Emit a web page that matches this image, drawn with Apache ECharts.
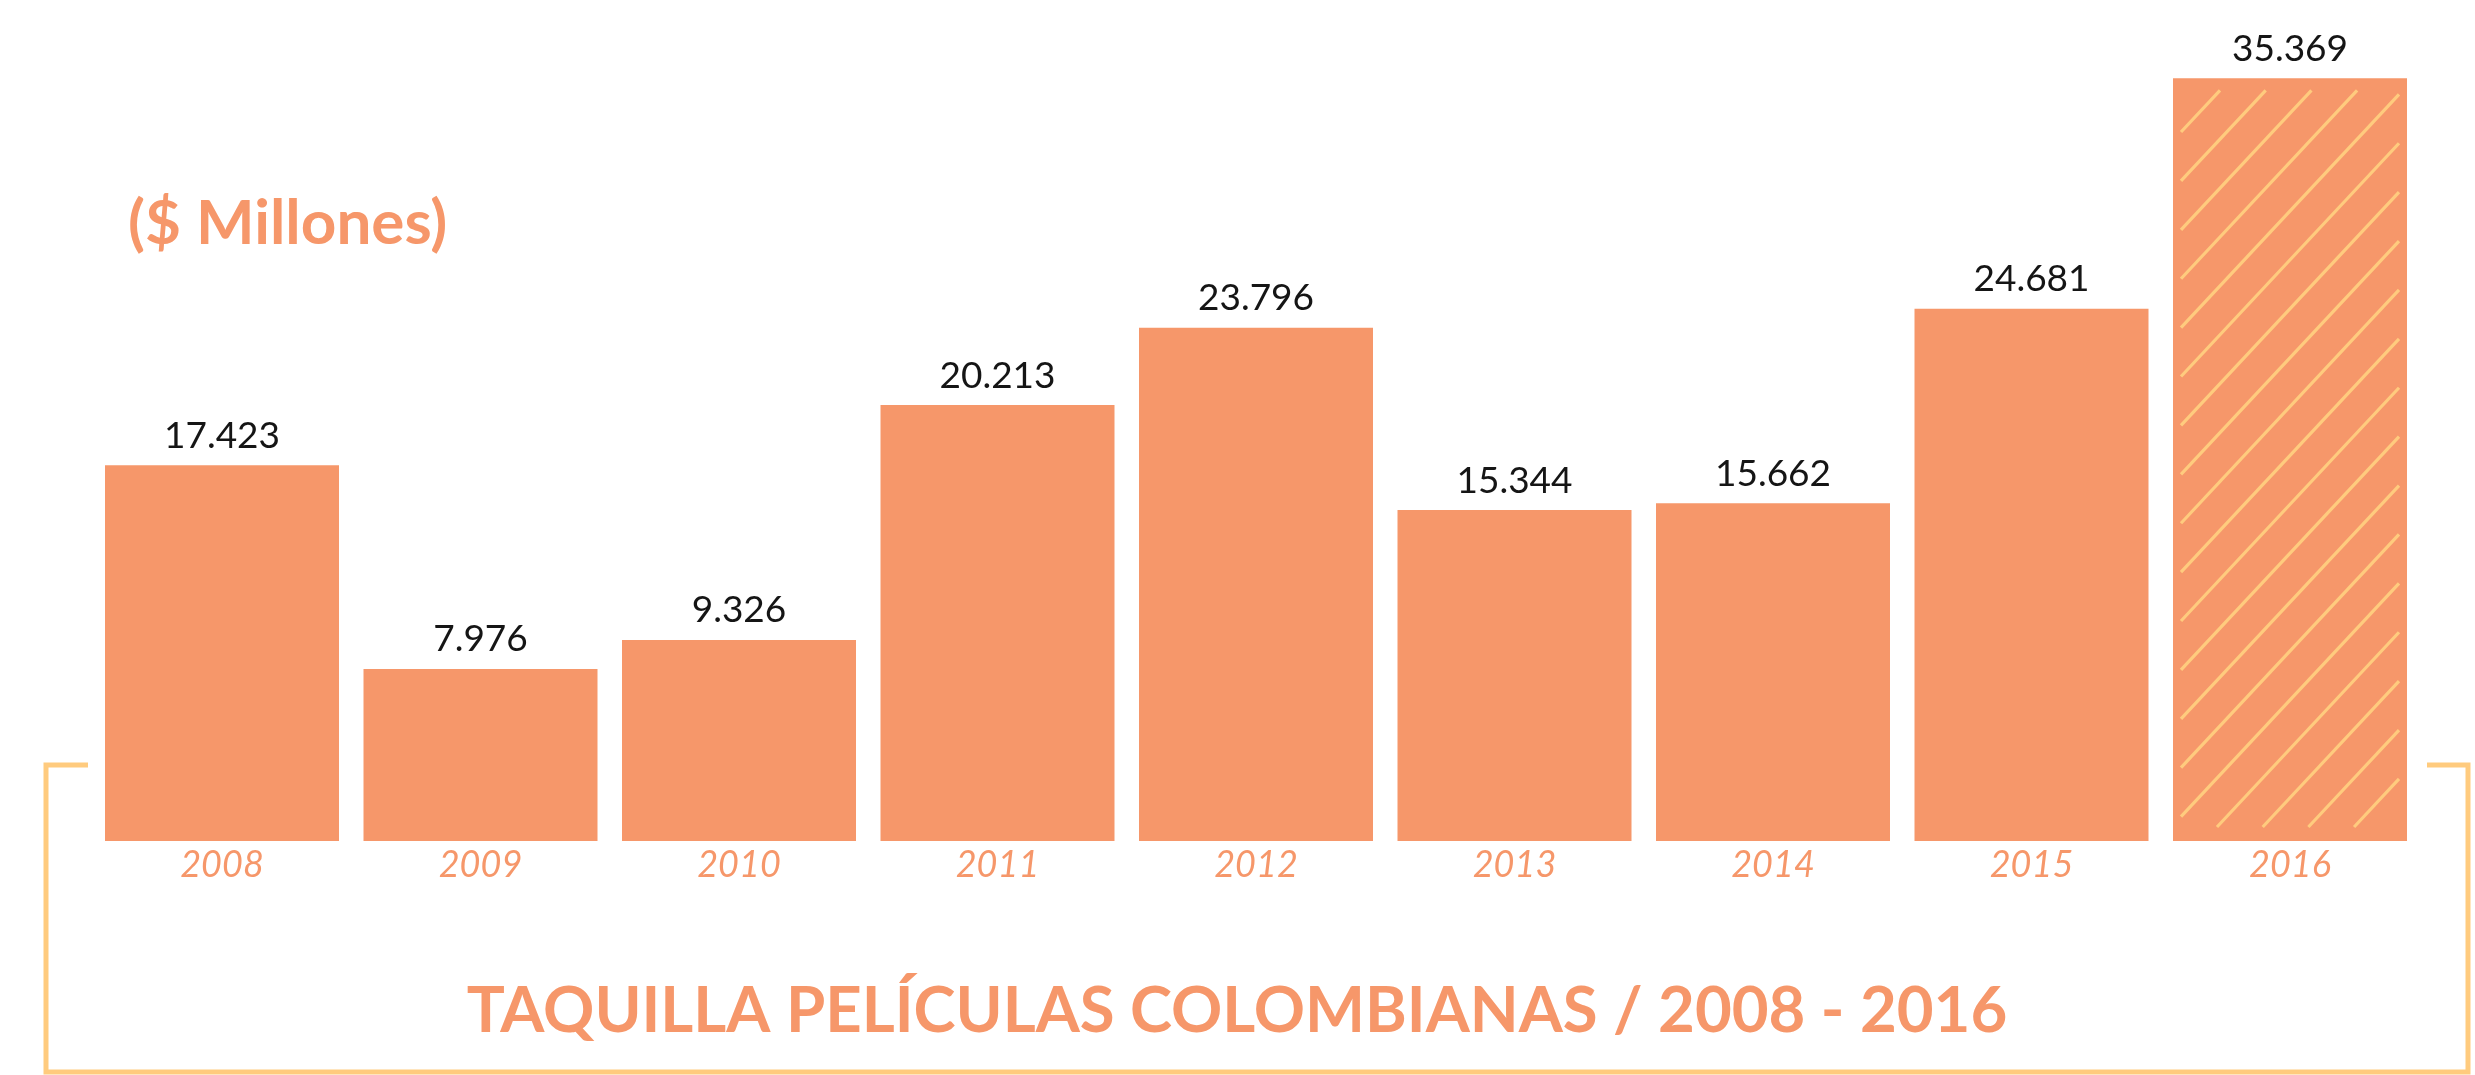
<!DOCTYPE html>
<html>
<head>
<meta charset="utf-8">
<title>Taquilla películas colombianas 2008 - 2016</title>
<script src="https://cdn.jsdelivr.net/npm/echarts@6/dist/echarts.min.js"></script>
<style>
  html, body { margin: 0; padding: 0; background: #ffffff; }
  #chart { width: 2475px; height: 1075px; }
</style>
</head>
<body>
<div id="chart"></div>
<script>
// Box office of Colombian films, in millions of pesos
const years = ['2008', '2009', '2010', '2011', '2012', '2013', '2014', '2015', '2016'];
const boxOffice = [17423, 7976, 9326, 20213, 23796, 15344, 15662, 24681, 35369];
// The last year is drawn with a diagonal hatch on top of the bar
const hatchedYears = ['2016'];

const unitLabel = '($ Millones)';
const titleText = 'TAQUILLA PELÍCULAS COLOMBIANAS / 2008 - 2016';

const ORANGE = '#F6976A';
const GOLD = '#FFCB7E';
const FONT = 'Lato, "Open Sans", "Noto Sans", sans-serif';

// thousands separated by a dot, e.g. 17.423
function fmt(v) {
  return String(v).replace(/\B(?=(\d{3})+(?!\d))/g, '.');
}

const hatchData = hatchedYears.map(y => {
  const i = years.indexOf(y);
  return [i, boxOffice[i]];
});

const chart = echarts.init(document.getElementById('chart'), null, { renderer: 'canvas' });

chart.setOption({
  animation: false,
  backgroundColor: '#ffffff',
  grid: { left: 92.75, right: 55.75, top: 0, bottom: 234, containLabel: false },
  xAxis: {
    type: 'category',
    data: years,
    axisLine: { show: false },
    axisTick: { show: false },
    axisLabel: {
      color: ORANGE,
      fontFamily: FONT,
      fontStyle: 'italic',
      fontSize: 36,
      margin: 6
    }
  },
  yAxis: {
    type: 'value',
    min: 0,
    max: 39000,
    show: false,
    splitLine: { show: false }
  },
  series: [
    {
      type: 'bar',
      data: boxOffice,
      barWidth: 234,
      itemStyle: { color: ORANGE },
      label: {
        show: true,
        position: 'top',
        distance: 11,
        color: '#151515',
        fontFamily: FONT,
        fontSize: 37,
        formatter: p => fmt(p.value)
      },
      z: 2
    },
    {
      type: 'custom',
      data: hatchData,
      encode: { x: 0, y: 1 },
      z: 3,
      silent: true,
      renderItem: function (params, api) {
        const top = api.coord([api.value(0), api.value(1)]);
        const base = api.coord([api.value(0), 0]);
        const half = 109;
        const x0 = top[0] - half, x1 = top[0] + half;
        const y0 = top[1] + 12, y1 = base[1] - 14;
        const dx = 45.7, slope = 1.07;
        const children = [];
        // lines rising to the right; xs is where a line meets the inner top edge
        for (let xs = x0 + 39 - dx * 20; xs < x1 + (y1 - y0) / slope; xs += dx) {
          let xa = xs, ya = y0;
          let xb = xs - (y1 - y0) / slope, yb = y1;
          // clip to [x0, x1]
          if (xa > x1) { ya = y0 + (xa - x1) * slope; xa = x1; }
          if (xb < x0) { yb = y1 - (x0 - xb) * slope; xb = x0; }
          if (ya >= yb || xa <= xb) continue;
          children.push({
            type: 'line',
            shape: { x1: xb, y1: yb, x2: xa, y2: ya },
            style: { stroke: GOLD, lineWidth: 3.2, lineCap: 'butt' }
          });
        }
        return { type: 'group', children: children };
      }
    }
  ],
  graphic: [
    {
      type: 'text',
      left: 128,
      top: 193,
      style: {
        text: unitLabel,
        fill: ORANGE,
        font: 'bold 62px ' + FONT
      }
    },
    {
      type: 'polyline',
      shape: {
        points: [[88, 765], [46, 765], [46, 1072], [2468, 1072], [2468, 765], [2427, 765]]
      },
      style: { stroke: GOLD, lineWidth: 5, fill: null, lineJoin: 'miter' }
    },
    {
      type: 'text',
      x: 1237,
      y: 1012,
      style: {
        text: titleText,
        fill: ORANGE,
        font: 'bold 63.5px ' + FONT,
        align: 'center',
        verticalAlign: 'middle'
      }
    }
  ]
});
</script>
</body>
</html>
